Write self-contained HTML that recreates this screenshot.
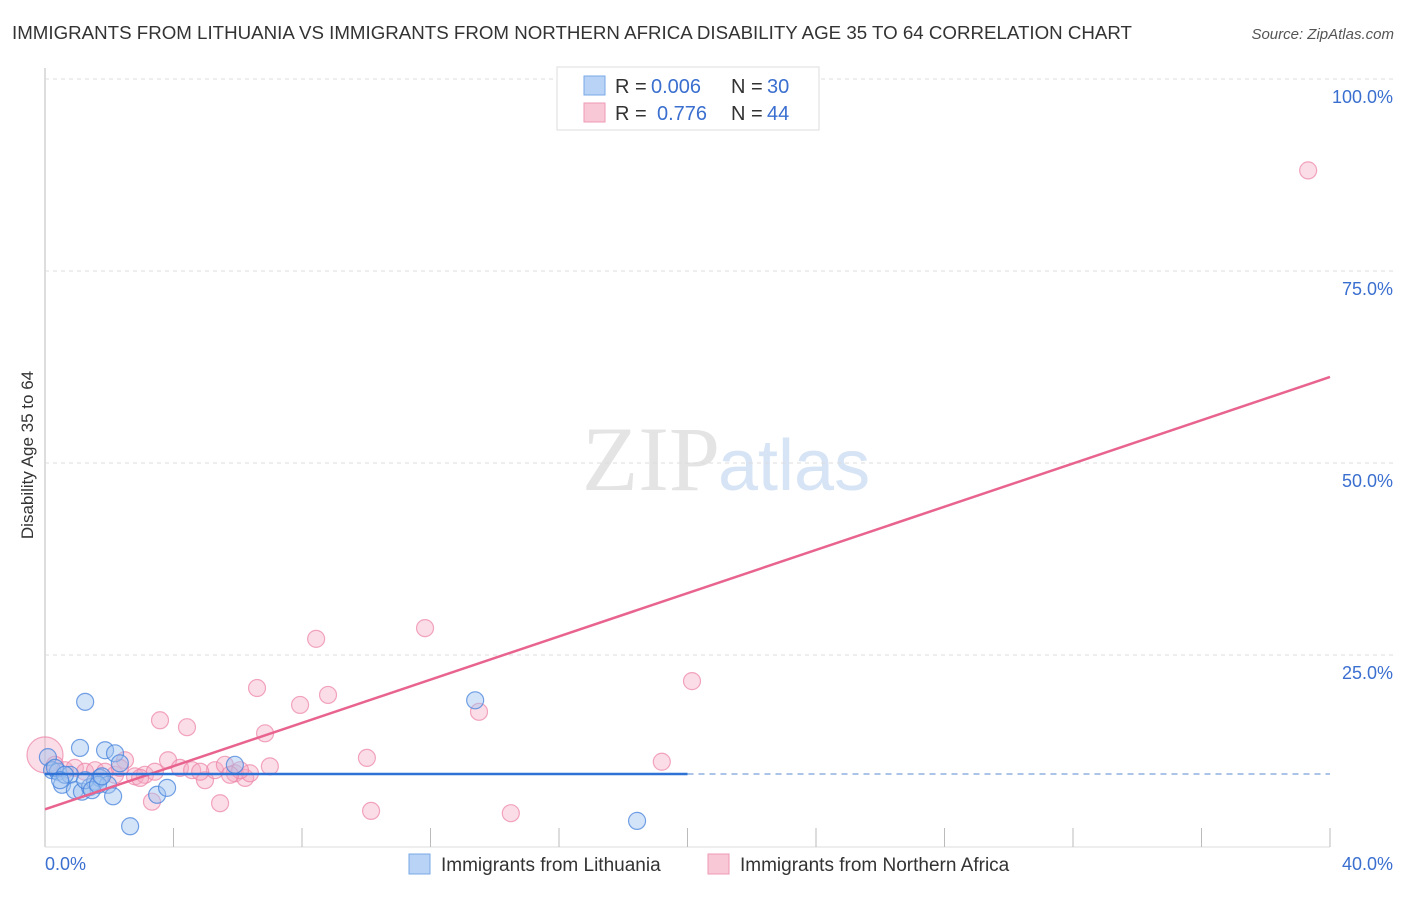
<!DOCTYPE html>
<html><head><meta charset="utf-8"><style>
body{margin:0;background:#fff;font-family:"Liberation Sans",sans-serif}
</style></head><body>
<svg id="c" width="1406" height="892" font-family="Liberation Sans, sans-serif">
<text x="12" y="39" font-size="18" fill="#333" textLength="1120" lengthAdjust="spacingAndGlyphs">IMMIGRANTS FROM LITHUANIA VS IMMIGRANTS FROM NORTHERN AFRICA DISABILITY AGE 35 TO 64 CORRELATION CHART</text>
<text x="1394" y="39" font-size="15" fill="#555" font-style="italic" text-anchor="end">Source: ZipAtlas.com</text>
<text x="33" y="455" font-size="17" fill="#333" text-anchor="middle" transform="rotate(-90 33 455)">Disability Age 35 to 64</text>
<text x="720" y="490" font-size="92" fill="#e4e4e4" text-anchor="end" font-family="Liberation Serif, serif">ZIP</text>
<text x="718" y="490" font-size="72" fill="#d6e4f5">atlas</text>
<g id="grid"></g><g id="pts"></g><g id="lines"></g>
<g>
<rect x="557" y="67" width="262" height="63" fill="#fff" stroke="#ddd"/>
<rect x="584" y="76" width="21" height="19" fill="#b8d3f5" stroke="#7aa9e8"/>
<rect x="584" y="103" width="21" height="19" fill="#f9c8d7" stroke="#ef9ab4"/>
<text x="615" y="93" font-size="20" fill="#333">R =</text>
<text x="651" y="93" font-size="20" fill="#3a6fd0">0.006</text>
<text x="731" y="93" font-size="20" fill="#333">N =</text>
<text x="767" y="93" font-size="20" fill="#3a6fd0">30</text>
<text x="615" y="120" font-size="20" fill="#333">R =</text>
<text x="657" y="120" font-size="20" fill="#3a6fd0">0.776</text>
<text x="731" y="120" font-size="20" fill="#333">N =</text>
<text x="767" y="120" font-size="20" fill="#3a6fd0">44</text>
</g>
<g>
<rect x="409" y="854" width="21" height="20" fill="#b8d3f5" stroke="#7aa9e8"/>
<text x="441" y="871" font-size="19" fill="#333">Immigrants from Lithuania</text>
<rect x="708" y="854" width="21" height="20" fill="#f9c8d7" stroke="#ef9ab4"/>
<text x="740" y="871" font-size="19" fill="#333">Immigrants from Northern Africa</text>
</g>
<text x="45" y="870" font-size="18" fill="#3a6fd0">0.0%</text>
<text x="1393" y="870" font-size="18" fill="#3a6fd0" text-anchor="end">40.0%</text>
</svg>
<script>
const yTicks=[25,50,75,100];
const yTickLabels=["25.0%","50.0%","75.0%","100.0%"];
const blueX=[1.25,1.09,1.87,2.18,2.33,0.09,0.22,0.40,0.53,0.78,0.93,1.15,1.40,1.56,1.71,1.96,2.12,2.65,3.49,3.80,5.91,13.39,18.43,0.31,0.62,1.25,1.46,1.65,1.77,0.47];
const blueY=[18.9,12.9,12.6,12.2,10.9,11.7,10.0,9.8,8.1,9.4,7.4,7.2,7.8,8.5,9.0,8.1,6.6,2.7,6.8,7.7,10.7,19.1,3.4,10.3,9.4,8.7,7.4,8.1,9.2,8.7];
const pinkX=[0,.31,.62,.93,1.25,1.56,1.87,2.18,2.49,2.80,3.11,3.42,3.58,3.83,4.20,4.42,4.58,4.98,5.29,5.45,5.60,5.91,6.23,6.38,6.60,6.85,7.00,7.94,8.44,8.81,10.02,10.15,11.83,13.51,14.50,19.20,20.14,39.32,3.33,6.07,5.76,2.33,2.96,4.83];
const pinkY=[12.0,10.7,10.0,10.3,9.8,10.0,9.8,9.4,11.3,9.2,9.4,9.8,16.5,11.3,10.3,15.6,10.0,8.7,10.0,5.7,10.7,9.6,9.0,9.6,20.7,14.8,10.5,18.5,27.1,19.8,11.6,4.7,28.5,17.6,4.4,11.1,21.6,88.1,5.9,10.0,9.4,10.3,9.0,9.8];
const blueTrend=[9.5,9.5];
const pinkTrend=[4.9,61.2];
const NS="http://www.w3.org/2000/svg";
const xs=v=>45+v/40*1285, ys=v=>847-v*7.68;
function mk(t,a,p){const e=document.createElementNS(NS,t);for(const k in a)e.setAttribute(k,a[k]);p.appendChild(e);return e;}
const g=document.getElementById('grid');
const ax=mk('line',{x1:45,y1:68,x2:45,y2:847,stroke:'#bbb'},g);


mk('line',{x1:45,y1:847,x2:1330,y2:847,stroke:'#ddd'},g);
yTicks.forEach((t,i)=>{
 const l=mk('line',{x1:45,y1:ys(t),x2:1395,y2:ys(t),stroke:'#ddd','stroke-dasharray':'4,4'},g);
 
 
 const tx=mk('text',{x:1393,y:ys(t)+24,'font-size':18,fill:'#3a6fd0','text-anchor':'end'},g);
 tx.textContent=yTickLabels[i];
 
 
});
for(let i=1;i<=10;i++){const x=45+i*128.5;const l=mk('line',{x1:x,y1:828,x2:x,y2:847,stroke:'#bbb'},g);
 
 }
const p=document.getElementById('pts');
pinkX.forEach((x,i)=>{const c=mk('circle',{cx:xs(x),cy:ys(pinkY[i]),r:i==0?18:8.5,fill:'rgba(246,170,195,0.4)',stroke:'rgba(236,130,165,0.7)','stroke-width':1.2},p);
 
 });
blueX.forEach((x,i)=>{const c=mk('circle',{cx:xs(x),cy:ys(blueY[i]),r:8.5,fill:'rgba(160,195,240,0.45)',stroke:'rgba(70,130,220,0.75)','stroke-width':1.2},p);
 
 });
const L=document.getElementById('lines');
const pl=mk('line',{x1:xs(0),y1:ys(pinkTrend[0]),x2:xs(40),y2:ys(pinkTrend[1]),stroke:'#e8648f','stroke-width':2.5},L);


const bl=mk('line',{x1:xs(0),y1:ys(blueTrend[0]),x2:xs(20),y2:ys(blueTrend[0]+(blueTrend[1]-blueTrend[0])/2),stroke:'#2f72d6','stroke-width':2.5},L);


const bd=mk('line',{x1:xs(20),y1:ys(blueTrend[0]+(blueTrend[1]-blueTrend[0])/2),x2:xs(40),y2:ys(blueTrend[1]),stroke:'#8fb0e0','stroke-width':1.5,'stroke-dasharray':'6,5'},L);


</script>
</body></html>
